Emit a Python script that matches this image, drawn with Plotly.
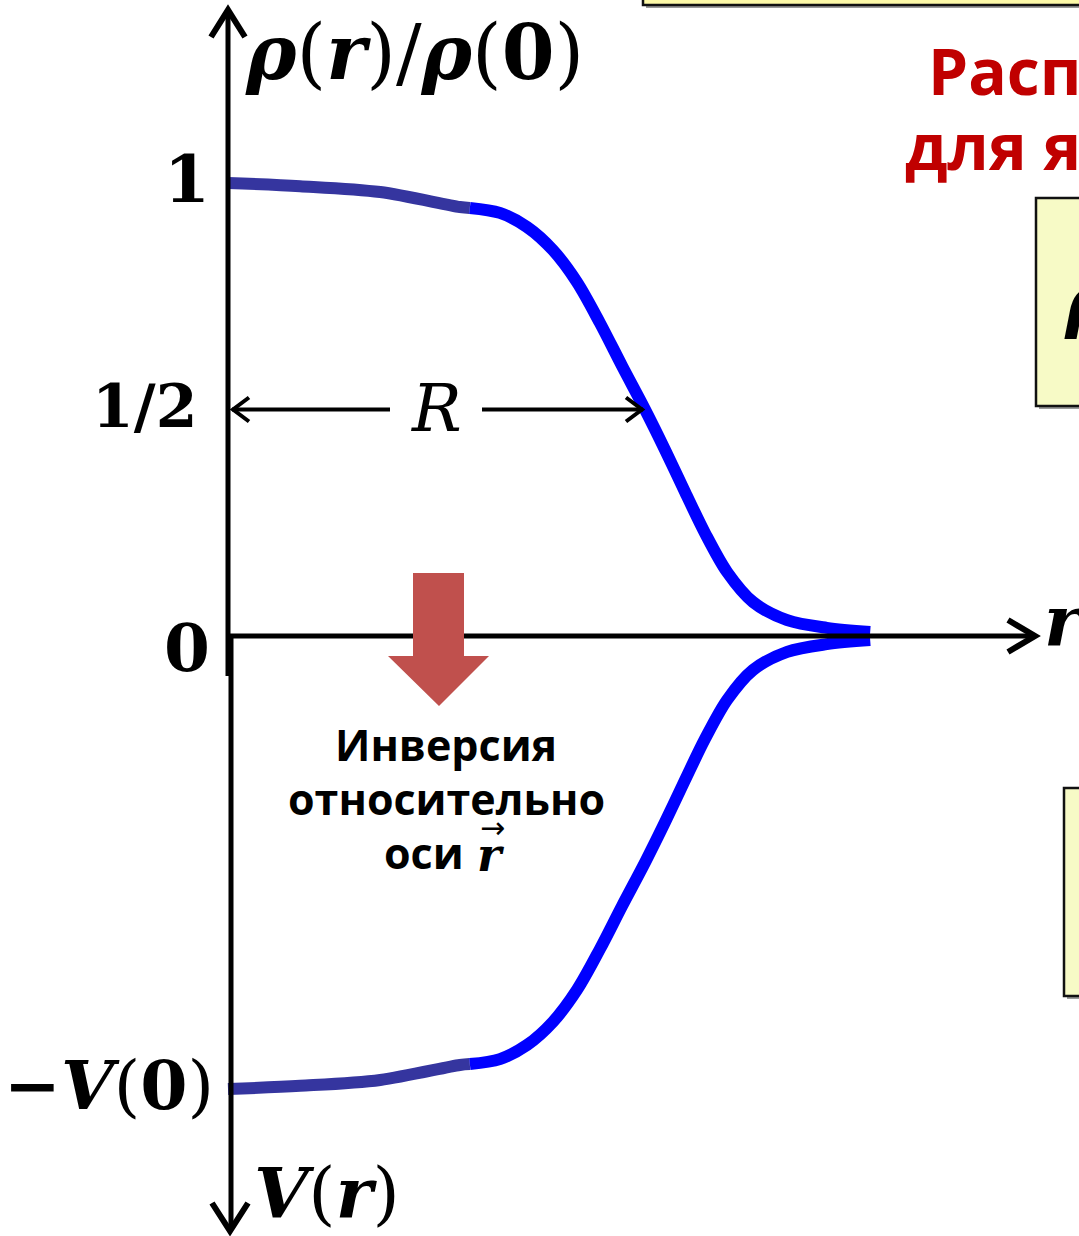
import plotly.graph_objects as go

# Woods-Saxon-like nuclear density profile rho(r)/rho(0), r in units of R
r_core = [0.0, 0.173, 0.365, 0.556, 0.58]
rho_core = [1.0, 0.993, 0.980, 0.947, 0.945]
r_edge = [0.58, 0.652, 0.717, 0.779, 0.837, 0.892, 0.945, 1.0, 1.048,
          1.096, 1.144, 1.197, 1.259, 1.341, 1.436, 1.540]
rho_edge = [0.945, 0.934, 0.903, 0.852, 0.781, 0.691, 0.596, 0.5, 0.411,
            0.318, 0.227, 0.141, 0.075, 0.035, 0.018, 0.009]

# potential obtained by inverting the density about the r axis: V/V(0) = -rho/rho(0)
v_core = [-v for v in rho_core]
v_edge = [-v for v in rho_edge]

tick_vals = [1.0, 0.5, 0.0]
tick_text = ["1", "1/2", "0"]
half_radius = 1.0

W, H = 1079, 1236
X0, Y0 = 228, 636          # origin on the canvas
SX, SY = 417, 453          # pixels per unit


def X(px):
    return (px - X0) / SX


def Y(py):
    return (Y0 - py) / SY


CORE = "#35359f"
EDGE = "#0000ff"
SERIF = "DejaVu Serif"
SANS = "Open Sans"

fig = go.Figure()
for xs, ys, col in [(r_core, rho_core, CORE), (r_edge, rho_edge, EDGE),
                    (r_core, v_core, CORE), (r_edge, v_edge, EDGE)]:
    fig.add_trace(go.Scatter(x=xs, y=ys, mode="lines",
                             line=dict(color=col, width=12, shape="spline", smoothing=0.9),
                             hoverinfo="skip", showlegend=False))

shapes = []


def line(x0, y0, x1, y1, w=5, color="black"):
    shapes.append(dict(type="line", xref="x", yref="y", x0=X(x0), y0=Y(y0), x1=X(x1), y1=Y(y1),
                       line=dict(color=color, width=w), layer="above"))


def path(pts, w=5, fill=None, color="black"):
    d = "M " + " L ".join(f"{X(a):.5f},{Y(b):.5f}" for a, b in pts)
    if fill:
        d += " Z"
        shapes.append(dict(type="path", xref="x", yref="y", path=d, fillcolor=fill,
                           line=dict(width=0), layer="above"))
    else:
        shapes.append(dict(type="path", xref="x", yref="y", path=d,
                           line=dict(color=color, width=w), layer="above"))


def rect(x0, y0, x1, y1, fill):
    shapes.append(dict(type="rect", xref="x", yref="y", x0=X(x0 + 3), y0=Y(y0 + 3), x1=X(x1 + 3),
                       y1=Y(y1 + 3), fillcolor="#9a9a9a", line=dict(width=0), layer="below"))
    shapes.append(dict(type="rect", xref="x", yref="y", x0=X(x0), y0=Y(y0), x1=X(x1), y1=Y(y1),
                       fillcolor=fill, line=dict(color="#111111", width=2.5), layer="below"))


# yellow formula boxes at the right
rect(643, -20, 1100, 5, "#fdf9a8")
rect(1036, 198, 1100, 406, "#f7fac6")
rect(1064, 788, 1100, 996, "#f7fac6")

# axes
line(228, 12, 228, 676)
line(231, 636, 231, 1230)
line(226, 636, 1031, 636)
path([(211, 37), (228, 10), (245, 37)], w=6)
path([(212, 1203), (230, 1231), (248, 1203)], w=6)
path([(1008, 620), (1035, 636), (1008, 652)], w=6)

# radius arrow at half density
rx = X0 + SX * half_radius
ry = Y0 - SY * 0.5
line(232, ry, 390, ry, w=4)
line(482, ry, rx - 2, ry, w=4)
path([(249, ry - 12), (233, ry), (249, ry + 12)], w=4)
path([(rx - 19, ry - 12), (rx - 3, ry), (rx - 19, ry + 12)], w=4)

# inversion arrow
path([(413, 573), (464, 573), (464, 656), (489, 656), (439, 706), (388, 656), (413, 656)],
     fill="#c0504d")

fig.update_layout(shapes=shapes)

ann = []


def text(x, y, s, size, family=SERIF, color="black", xanchor="center", yanchor="middle"):
    ann.append(dict(x=X(x), y=Y(y), xref="x", yref="y", text=s, showarrow=False,
                    font=dict(family=family, size=size, color=color),
                    xanchor=xanchor, yanchor=yanchor))


# vertical tick labels
for v, t in zip(tick_vals, tick_text):
    size = 60 if t == "1/2" else 66
    right = 199 if t == "1/2" else 212
    ann.append(dict(x=X(right), y=v, xref="x", yref="y", text=f"<b>{t}</b>", showarrow=False,
                    font=dict(family=SERIF, size=size, color="black"),
                    xanchor="right", yanchor="middle", yshift=(4 if v != 0 else -12)))
ann.append(dict(x=X(216), y=-1.0, xref="x", yref="y",
                text="<b>−<i>V</i></b>(<b>0</b>)", showarrow=False,
                font=dict(family=SERIF, size=68, color="black"),
                xanchor="right", yanchor="middle", yshift=4))

text(243, 52, "<b><i>ρ</i></b>(<b><i>r</i></b>)/<b><i>ρ</i></b>(<b>0</b>)", 76, xanchor="left")
text(252, 1192, "<b><i>V</i></b>(<b><i>r</i></b>)", 70, xanchor="left")
text(1042, 620, "<b><i>r</i></b>", 70, xanchor="left")
text(436, ry - 1, "<i>R</i>", 66)

# inversion caption
text(446, 744, "<b>Инверсия</b>", 43, family=SANS)
text(446, 798, "<b>относительно</b>", 43, family=SANS)
text(424, 852, "<b>оси</b>", 43, family=SANS)
text(491, 855, "<b><i>r</i></b>", 46)
text(492, 827, "→", 30, family="DejaVu Sans")

# title lines and formula, running off the right edge
text(926, 70, "<b>Распределение</b>", 64, family=SANS, color="#c00000", xanchor="left")
text(903, 145, "<b>для ядер</b>", 64, family=SANS, color="#c00000", xanchor="left")
text(1062, 300, "<b><i>ρ</i></b>(<b><i>r</i></b>) =", 70, xanchor="left")

fig.update_layout(
    annotations=ann,
    width=W, height=H,
    margin=dict(l=0, r=0, t=0, b=0),
    paper_bgcolor="white", plot_bgcolor="white",
    xaxis=dict(range=[X(0), X(W)], visible=False, fixedrange=True),
    yaxis=dict(range=[Y(H), Y(0)], visible=False, fixedrange=True),
    showlegend=False,
)

fig.write_html("out.html")
